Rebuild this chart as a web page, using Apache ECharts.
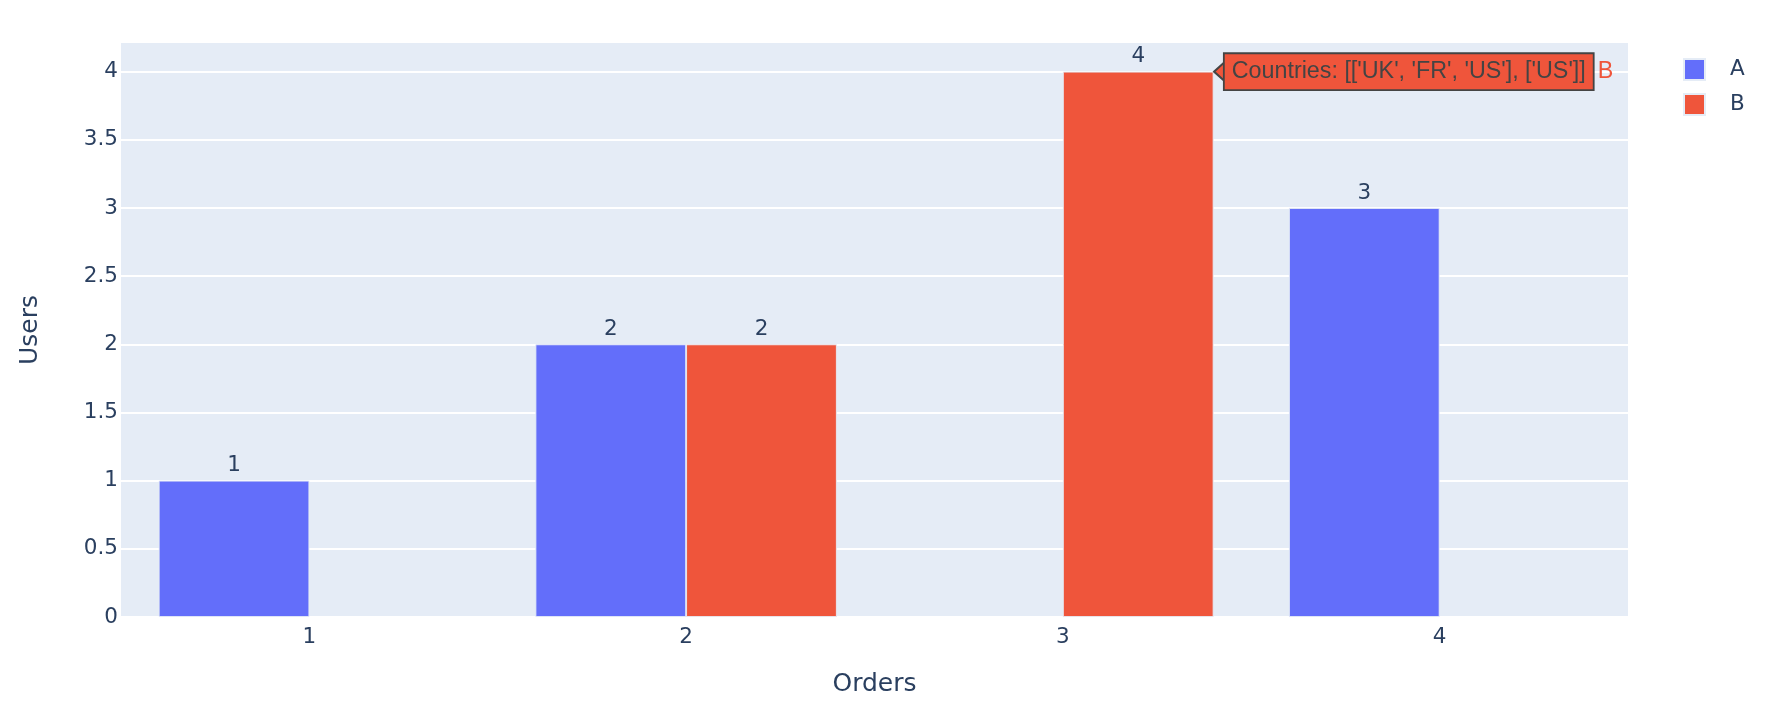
<!DOCTYPE html>
<html><head><meta charset="utf-8">
<script src="https://cdn.jsdelivr.net/npm/echarts@6/dist/echarts.min.js"></script>
<style>html,body{margin:0;padding:0;background:#fff}#c{width:1790px;height:726px}</style>
</head><body><div id="c"></div>
<script>
// ---- data ----
const categories = ['1', '2', '3', '4'];
const seriesNames = ['A', 'B'];
const valuesA = [1, 2, null, 3];
const valuesB = [null, 2, 4, null];
const yTicks = [0, 0.5, 1, 1.5, 2, 2.5, 3, 3.5, 4];
const yMax = 4.21;
const xTitle = 'Orders';
const yTitle = 'Users';
const hoverSeriesIndex = 1;
const hoverDataIndex = 2;
const hoverLabel = 'Countries';
const hoverCountries = [['UK', 'FR', 'US'], ['US']];

// ---- style ----
const colors = ['#636efa', '#EF553B'];
const textColor = '#2a3f5f';
const mainFont = 'Verdana, "DejaVu Sans", sans-serif';
const hoverFont = 'Arial, "Liberation Sans", sans-serif';

function pyRepr(list) {
  return '[' + list.map(a => '[' + a.map(s => "'" + s + "'").join(', ') + ']').join(', ') + ']';
}

const chart = echarts.init(document.getElementById('c'), null, {renderer: 'canvas'});

function barSeries(name, data, color) {
  return {
    name: name,
    type: 'bar',
    data: data.map(v => v === null ? '-' : v),
    barWidth: '40%',
    barGap: '0%',
    itemStyle: {color: color, borderColor: '#E5ECF6', borderWidth: 0.9},
    label: {
      show: true, position: 'top', distance: 4,
      color: textColor, fontSize: 21.5, fontFamily: mainFont
    }
  };
}

const option = {
  animation: false,
  backgroundColor: '#ffffff',
  grid: {
    left: 121, top: 43, width: 1507, height: 574,
    show: true, backgroundColor: '#E5ECF6', borderWidth: 0
  },
  legend: {
    orient: 'vertical',
    left: 1683, top: 58,
    padding: 0,
    itemWidth: 21, itemHeight: 21, itemGap: 12,
    icon: 'rect',
    data: seriesNames,
    textStyle: {color: textColor, fontSize: 21.5, fontFamily: mainFont, padding: [0, 0, 0, 20]}
  },
  xAxis: {
    type: 'category',
    data: categories,
    axisLine: {show: false},
    axisTick: {show: false},
    axisLabel: {color: textColor, fontSize: 21.5, fontFamily: mainFont, margin: 9.5},
    splitLine: {show: false},
    name: xTitle,
    nameLocation: 'middle',
    nameGap: 55,
    nameTextStyle: {color: textColor, fontSize: 25, fontFamily: mainFont}
  },
  yAxis: {
    type: 'value',
    min: 0, max: yMax,
    axisLine: {show: false},
    axisTick: {show: false, customValues: yTicks},
    axisLabel: {color: textColor, fontSize: 21.5, fontFamily: mainFont, margin: 3, customValues: yTicks},
    splitLine: {show: true, lineStyle: {color: '#ffffff', width: 1.8}},
    name: yTitle,
    nameLocation: 'middle',
    nameGap: 78,
    nameRotate: 90,
    nameTextStyle: {color: textColor, fontSize: 25, fontFamily: mainFont}
  },
  series: [
    barSeries(seriesNames[0], valuesA, colors[0]),
    barSeries(seriesNames[1], valuesB, colors[1])
  ]
};

chart.setOption(option);

// hover label anchored to the right edge of the hovered bar (from the library's bar layout)
const layout = chart.getModel().getSeriesByIndex(hoverSeriesIndex).getData().getItemLayout(hoverDataIndex);
const barRight = layout.x + layout.width;
const barTop = Math.min(layout.y, layout.y + layout.height);
const arrowW = 11;

chart.setOption({
  series: [{}, {
    markPoint: {
      silent: true,
      animation: false,
      symbol: 'path://M0,10 L10,0 L10,20 Z',
      symbolSize: [arrowW, 20],
      symbolKeepAspect: false,
      itemStyle: {color: colors[1], borderColor: '#444444', borderWidth: 1.8},
      data: [{
        x: barRight + arrowW / 2 + 0.5,
        y: barTop,
        label: {
          show: true,
          position: 'right',
          distance: -1,
          formatter: '{box|' + hoverLabel + ': ' + pyRepr(hoverCountries) + '}{nm|' + seriesNames[hoverSeriesIndex] + '}',
          rich: {
            box: {
              backgroundColor: colors[1], borderColor: '#444444', borderWidth: 1.8,
              padding: [6, 7, 6, 7], color: '#444444', fontSize: 23.3, fontFamily: hoverFont,
              lineHeight: 25
            },
            nm: {color: colors[1], fontSize: 23.3, fontFamily: hoverFont, padding: [0, 0, 0, 5]}
          }
        }
      }]
    }
  }]
});
</script>
</body></html>
